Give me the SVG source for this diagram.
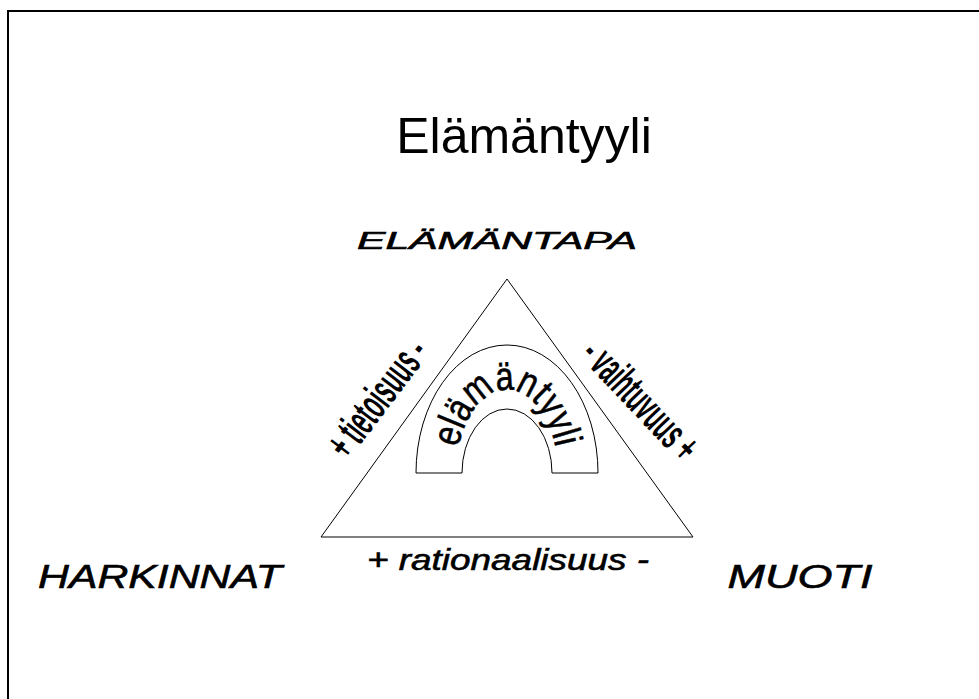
<svg xmlns="http://www.w3.org/2000/svg" width="979" height="699" viewBox="0 0 979 699">
<style>
.t{font-family:"Liberation Sans",Arial,sans-serif;fill:#000}
.m{stroke:#000;stroke-width:0.6}
.ln{fill:none;stroke:#000;stroke-width:1}
</style>
<defs>
<path id="archBase" d="M 456 473 A 51 83 0 0 1 558 473"/>
</defs>
<rect x="0" y="0" width="979" height="699" fill="#fff"/>
<rect x="8" y="11" width="1000" height="720" fill="none" stroke="#000" stroke-width="2"/>
<g id="title"><text class="t" x="524" y="153" font-size="50" text-anchor="middle">Elämäntyyli</text></g>
<g id="connectors">
<polygon class="ln" points="507,279 321,537 693,537"/>
</g>
<g id="arch">
<path class="ln" d="M 462 473 L 416 473 A 91 128 0 0 1 598 473 L 552 473 A 45 64 0 0 0 462 473"/>
<text class="t m" font-size="40"><textPath href="#archBase" startOffset="50%" text-anchor="middle" textLength="162" lengthAdjust="spacingAndGlyphs">elämäntyyli</textPath></text>
</g>
<g id="elamantapa"><text class="t m" x="497" y="249" font-size="23" font-style="italic" text-anchor="middle" textLength="280" lengthAdjust="spacingAndGlyphs">ELÄMÄNTAPA</text></g>
<g id="harkinnat"><text class="t m" x="160" y="588" font-size="33" font-style="italic" text-anchor="middle" textLength="244" lengthAdjust="spacingAndGlyphs">HARKINNAT</text></g>
<g id="muoti"><text class="t m" x="800" y="588" font-size="33" font-style="italic" text-anchor="middle" textLength="145" lengthAdjust="spacingAndGlyphs">MUOTI</text></g>
<g id="rationaalisuus"><text class="t m" x="508" y="570" font-size="30" font-style="italic" text-anchor="middle" textLength="282" lengthAdjust="spacingAndGlyphs">+ rationaalisuus -</text></g>
<g id="tietoisuus"><text class="t" transform="translate(389,407) rotate(-52.7)" font-size="44" font-weight="bold" text-anchor="middle" textLength="136" lengthAdjust="spacingAndGlyphs">+ tietoisuus -</text></g>
<g id="vaihtuvuus"><text class="t" transform="translate(630,410) rotate(46.5)" font-size="44" font-weight="bold" text-anchor="middle" textLength="148" lengthAdjust="spacingAndGlyphs">- vaihtuvuus +</text></g>
</svg>
